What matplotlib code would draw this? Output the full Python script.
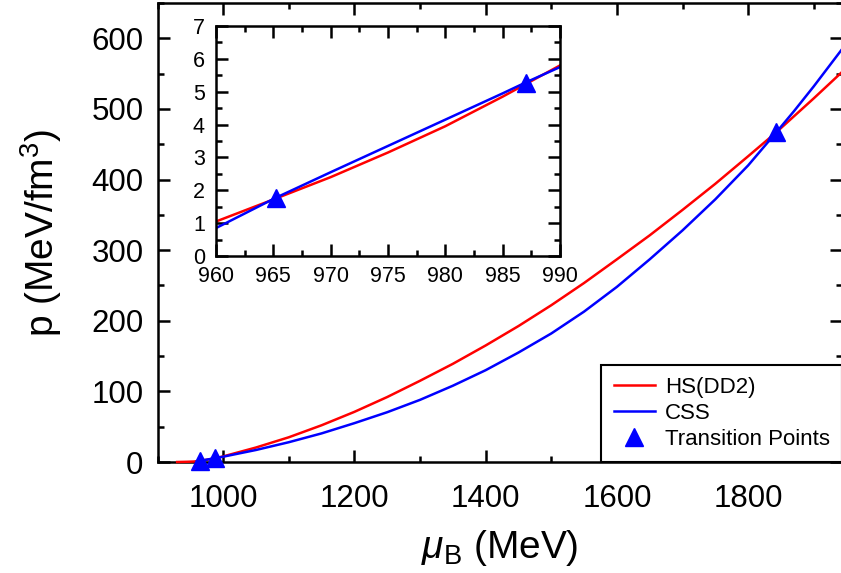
import matplotlib
matplotlib.use('Agg')
import matplotlib.pyplot as plt
from matplotlib.ticker import MultipleLocator

plt.rcParams['font.family'] = ['Liberation Sans', 'DejaVu Sans']
plt.rcParams['mathtext.fontset'] = 'custom'
plt.rcParams['mathtext.rm'] = 'Liberation Sans'
plt.rcParams['mathtext.it'] = 'Liberation Sans:italic'

# HS(DD2) hadronic EoS, p(mu_B)
mu_hs = [930, 945, 955, 960, 965, 970, 975, 980, 985, 990, 1000, 1050, 1100, 1150,
         1200, 1250, 1300, 1350, 1400, 1450, 1500, 1550, 1600, 1650, 1700, 1750,
         1800, 1843, 1900, 1945]
p_hs = [0.0, 0.3, 0.65, 1.05, 1.72, 2.4, 3.15, 3.95, 4.85, 5.8, 7.9, 20.5, 35, 52,
        71, 92, 115, 139, 165, 192.5, 222, 253.5, 287, 321, 357, 394,
        433, 467, 515, 554]

# CSS quark matter EoS
mu_css = [960, 965.2, 970, 975, 980, 985, 987, 990, 1000, 1050, 1100, 1150, 1200,
          1250, 1300, 1350, 1400, 1450, 1500, 1550, 1600, 1650, 1700, 1750, 1800,
          1843, 1870, 1900, 1945]
p_css = [0.85, 1.77, 2.55, 3.35, 4.15, 4.95, 5.28, 5.75, 7.5, 17, 28, 40.5, 55,
         70.5, 88, 108, 130, 155, 182, 213, 248, 287, 328, 372, 420,
         467, 497, 532, 587]

# crossings of the two branches
mu_trans = [965.2, 987.0, 1843]
p_trans = [1.77, 5.28, 467]


def style_axes(ax, labelsize, pad):
    ax.tick_params(which='both', direction='in', top=True, right=True, width=1.8)
    ax.tick_params(which='major', length=8.6, labelsize=labelsize, pad=pad)
    ax.tick_params(which='minor', length=4.3)
    for sp in ax.spines.values():
        sp.set_linewidth(1.8)


fig = plt.figure(figsize=(8.41, 5.73), dpi=100)
ax = fig.add_axes([157.5 / 841, 111 / 573, 684.5 / 841, 459 / 573])

ax.plot(mu_hs, p_hs, color='#ff0000', lw=1.8, clip_on=False, zorder=3, label='HS(DD2)')
ax.plot(mu_css, p_css, color='#0000ff', lw=1.8, clip_on=False, zorder=3, label='CSS')
ax.plot(mu_trans, p_trans, '^', color='#0000ff', ms=13.5, clip_on=False, zorder=4,
        label='Transition Points')

ax.set_xlim(900, 1943)
ax.set_ylim(0, 650)
ax.xaxis.set_major_locator(MultipleLocator(200))
ax.xaxis.set_minor_locator(MultipleLocator(100))
ax.yaxis.set_major_locator(MultipleLocator(100))
ax.yaxis.set_minor_locator(MultipleLocator(50))
style_axes(ax, 22.5, 10)
ax.tick_params(axis='x', which='major', pad=16)

ax.set_xlabel(r'$\mu_{\rm B}$ (MeV)', fontsize=28, labelpad=10)
ax.set_ylabel(r'p (MeV/fm$^3$)', fontsize=28, labelpad=20)

leg = ax.legend(loc='lower right', borderaxespad=0, fontsize=16, frameon=True,
                fancybox=False, edgecolor='black', framealpha=1, handlelength=1.85,
                handletextpad=0.45, labelspacing=0.22, borderpad=0.55)
leg.get_frame().set_linewidth(1.5)
leg.set_zorder(5)

# zoom on the low-density transition
ins = fig.add_axes([216 / 841, 317 / 573, 344 / 841, 230 / 573])
ins.plot(mu_hs, p_hs, color='#ff0000', lw=1.8)
ins.plot(mu_css, p_css, color='#0000ff', lw=1.8)
ins.plot(mu_trans, p_trans, '^', color='#0000ff', ms=13.5)
ins.set_xlim(960, 990)
ins.set_ylim(0, 7)
ins.xaxis.set_major_locator(MultipleLocator(5))
ins.xaxis.set_minor_locator(MultipleLocator(2.5))
ins.yaxis.set_major_locator(MultipleLocator(1))
ins.yaxis.set_minor_locator(MultipleLocator(0.5))
style_axes(ins, 15.5, 8)
ins.tick_params(axis='x', which='major', pad=7)

fig.savefig('out.png', dpi=100)
